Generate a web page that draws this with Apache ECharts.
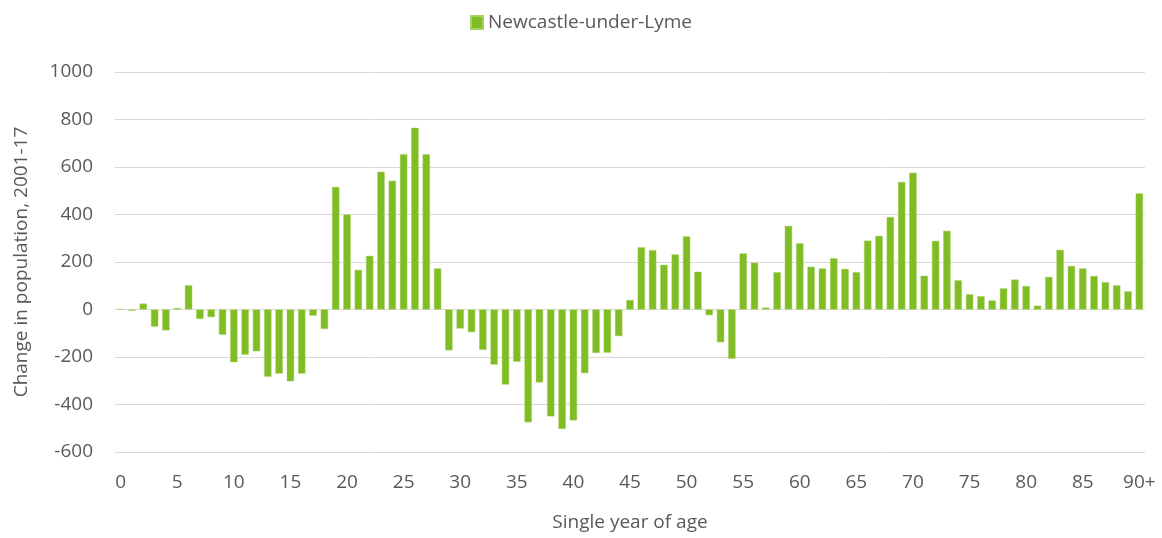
<!DOCTYPE html>
<html>
<head>
<meta charset="utf-8">
<script src="https://cdn.jsdelivr.net/npm/echarts@6/dist/echarts.min.js"></script>
<style>
  html, body { margin: 0; padding: 0; background: #fff; }
</style>
</head>
<body>
<div id="myChart" style="width: 1162px; height: 538px;"></div>
<script>
// ages 0..89 plus 90+
var ages = [];
for (var a = 0; a < 90; a++) ages.push(String(a));
ages.push("90+");

// change in population 2001-17
var change = [
  2, -5, 25, -72, -88, 6, 102, -40, -32, -106,
  -222, -190, -176, -283, -270, -302, -270, -26, -82, 516,
  400, 167, 226, 580, 542, 654, 765, 654, 173, -172,
  -80, -95, -170, -232, -316, -220, -475, -307, -450, -503,
  -467, -268, -183, -182, -112, 40, 262, 250, 188, 232,
  308, 159, -24, -138, -207, 236, 197, 8, 157, 352,
  279, 180, 173, 216, 171, 157, 290, 310, 389, 537,
  576, 142, 289, 331, 123, 64, 56, 38, 89, 126,
  99, 16, 137, 251, 183, 173, 141, 115, 102, 76,
  489
];

var seriesName = "Newcastle-under-Lyme";
var yTitle = "Change in population, 2001-17";
var xTitle = "Single year of age";

var myChart = echarts.init(document.getElementById("myChart"));
var font = "'Open Sans', sans-serif";

myChart.setOption({
  animation: false,
  textStyle: { fontFamily: font },
  legend: {
    top: 8,
    left: "center",
    icon: "rect",
    itemWidth: 12,
    itemHeight: 13,
    itemGap: 6,
    textStyle: { fontSize: 19, color: "#595959", fontFamily: font },
    data: [seriesName]
  },
  grid: { left: 115, right: 17, top: 72, bottom: 86, containLabel: false, outerBoundsMode: "none" },
  xAxis: {
    type: "category",
    data: ages,
    name: xTitle,
    nameLocation: "middle",
    nameGap: 61,
    nameTextStyle: { fontSize: 19, color: "#595959" },
    axisLine: { show: false, onZero: false },
    axisTick: { show: false },
    axisLabel: { interval: 4, fontSize: 19, color: "#595959", margin: 21 },
    splitLine: { show: false }
  },
  yAxis: {
    type: "value",
    min: -600,
    max: 1000,
    interval: 200,
    name: yTitle,
    nameLocation: "middle",
    nameGap: 84,
    nameTextStyle: { fontSize: 19, color: "#595959" },
    axisLine: { show: false },
    axisTick: { show: false },
    axisLabel: { fontSize: 19, color: "#595959", margin: 22, formatter: function (v) { return String(v); } },
    splitLine: { lineStyle: { color: "#d9d9d9", width: 1 } }
  },
  series: [
    {
      name: seriesName,
      type: "bar",
      data: change,
      barCategoryGap: "35%",
      itemStyle: { color: "#80bc24", borderColor: "#a6d163", borderWidth: 0.5 }
    }
  ]
});
</script>
</body>
</html>
